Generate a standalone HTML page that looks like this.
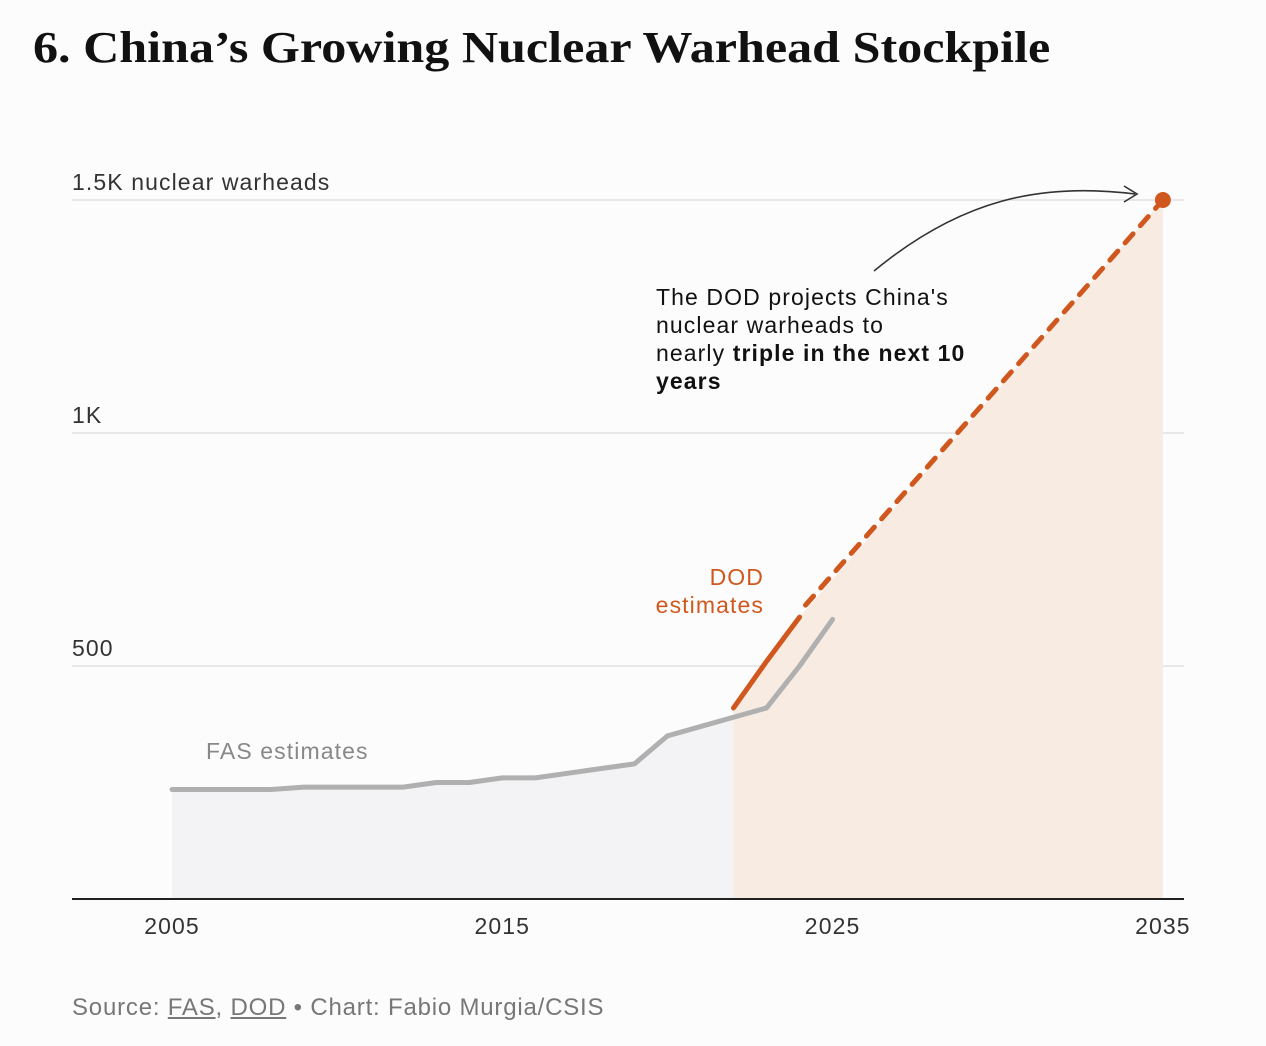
<!DOCTYPE html>
<html><head><meta charset="utf-8"><style>
body{margin:0;width:1266px;height:1046px;background:#fcfcfc;font-family:"Liberation Sans",sans-serif;overflow:hidden}
h1{position:absolute;left:33px;top:22px;margin:0;font-family:"Liberation Serif",serif;font-weight:bold;font-size:44px;color:#111;transform:scaleX(1.139);transform-origin:left top;white-space:nowrap}
.src{position:absolute;left:72px;top:994px;font-size:24px;color:#777;letter-spacing:0.8px}
.src u{text-decoration:underline}
svg text{letter-spacing:1.1px}
</style></head><body>
<h1>6. China’s Growing Nuclear Warhead Stockpile</h1>
<svg id="chart" width="1266" height="1046" style="position:absolute;left:0;top:0"></svg>
<div class="src">Source: <u>FAS</u>, <u>DOD</u> • Chart: Fabio Murgia/CSIS</div>
<script>
const fasYears=[2005,2006,2007,2008,2009,2010,2011,2012,2013,2014,2015,2016,2017,2018,2019,2020,2021,2022,2023,2024,2025];
const fasValues=[235,235,235,235,240,240,240,240,250,250,260,260,270,280,290,350,370,390,410,500,600];
const dodYears=[2022,2023,2024];
const dodValues=[410,510,605];
const projYears=[2024,2035];
const projValues=[605,1500];
const yTicks=[500,1000,1500];
const yTickLabels=["500","1K","1.5K nuclear warheads"];
const xTicks=[2005,2015,2025,2035];
const NS="http://www.w3.org/2000/svg";
const svg=document.getElementById('chart');
const x=y=>172+(y-2005)*33.03;
const yv=v=>899-v*0.466;
function mk(t,a){const e=document.createElementNS(NS,t);for(const k in a)e.setAttribute(k,a[k]);svg.appendChild(e);return e;}
yTicks.forEach((t,i)=>{
  const g=mk('line',{x1:72,x2:1184,y1:yv(t),y2:yv(t),stroke:'#e2e2e2','stroke-width':1.5});
  
  
  const l=mk('text',{x:72,y:yv(t)-10,'font-size':23,fill:'#333'});l.textContent=yTickLabels[i];
  
  
});
let fi=fasYears.indexOf(2022);
let d='M'+x(2005)+','+yv(0);
for(let i=0;i<=fi;i++)d+=' L'+x(fasYears[i])+','+yv(fasValues[i]);
d+=' L'+x(2022)+','+yv(0)+'Z';
let a=mk('path',{d:d,fill:'#f3f3f5'});


d='M'+x(dodYears[0])+','+yv(0);
dodYears.forEach((yr,i)=>d+=' L'+x(yr)+','+yv(dodValues[i]));
d+=' L'+x(projYears[1])+','+yv(projValues[1])+' L'+x(projYears[1])+','+yv(0)+'Z';
a=mk('path',{d:d,fill:'#f8ebe2'});


const ax=mk('line',{x1:72,x2:1184,y1:899,y2:899,stroke:'#222','stroke-width':2});


xTicks.forEach(t=>{const l=mk('text',{x:x(t),y:934,'font-size':23,fill:'#333','text-anchor':'middle'});l.textContent=t;
  
  });
let p=mk('polyline',{points:fasYears.map((yr,i)=>x(yr)+','+yv(fasValues[i])).join(' '),fill:'none',stroke:'#b0b0b0','stroke-width':5,'stroke-linejoin':'round','stroke-linecap':'round'});


p=mk('polyline',{points:dodYears.map((yr,i)=>x(yr)+','+yv(dodValues[i])).join(' '),fill:'none',stroke:'#d0581e','stroke-width':5,'stroke-linecap':'round'});


p=mk('line',{x1:x(projYears[0])+6,y1:yv(projValues[0])-12,x2:x(projYears[1]),y2:yv(projValues[1]),stroke:'#d0581e','stroke-width':5,'stroke-dasharray':'12 11','stroke-linecap':'round'});


const dot=mk('circle',{cx:x(projYears[1]),cy:yv(projValues[1]),r:8,fill:'#d0581e'});


const ar=mk('path',{d:'M874,271 C960,200 1040,182 1135,194 M1124,186 L1137,194 L1124,202',fill:'none',stroke:'#333','stroke-width':1.6});


function txt(s,xx,yy,attrs,name){const t=mk('text',Object.assign({x:xx,y:yy,'font-size':23},attrs));t.innerHTML=s;
  
  return t;}
txt('The DOD projects China\'s',656,305,{fill:'#111'},'annotation-line-1');
txt('nuclear warheads to',656,333,{fill:'#111'},'annotation-line-2');
txt('nearly <tspan font-weight="bold">triple in the next 10</tspan>',656,361,{fill:'#111'},'annotation-line-3');
txt('<tspan font-weight="bold">years</tspan>',656,389,{fill:'#111'},'annotation-line-4');
txt('DOD',764,585,{fill:'#d0581e','text-anchor':'end'},'dod-label');
txt('estimates',764,613,{fill:'#d0581e','text-anchor':'end'},'dod-label-2');
txt('FAS estimates',206,759,{fill:'#888'},'fas-label');
</script>
</body></html>
